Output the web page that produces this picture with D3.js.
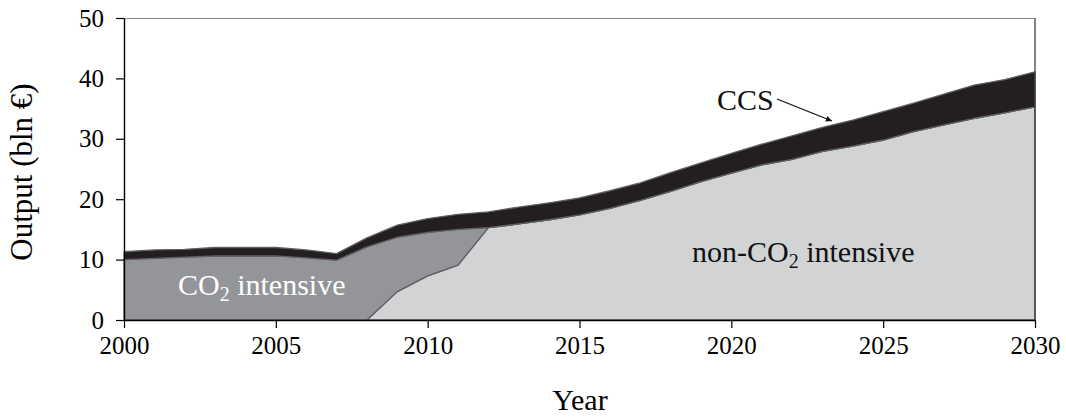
<!DOCTYPE html>
<html>
<head>
<meta charset="utf-8">
<script src="https://cdn.jsdelivr.net/npm/d3@7"></script>
<style>
  body { margin: 0; background: #fff; }
  svg text { font-family: "Liberation Serif", "Times New Roman", serif; }
</style>
</head>
<body>
<svg id="chart" width="1066" height="419"></svg>
<script>
// years on the x axis
var years = [2000,2001,2002,2003,2004,2005,2006,2007,2008,2009,2010,
             2011,2012,2013,2014,2015,2016,2017,2018,2019,2020,
             2021,2022,2023,2024,2025,2026,2027,2028,2029,2030];

// output per sector, bln euro
var nonCO2 = [0,0,0,0,0,0,0,0,0,4.7,7.3,
              9.1,15.3,15.9,16.6,17.4,18.5,19.8,21.3,22.9,24.3,
              25.7,26.6,27.9,28.8,29.8,31.2,32.3,33.4,34.3,35.3];
var co2 = [10.0,10.2,10.4,10.6,10.6,10.6,10.3,9.9,12.1,9.0,7.2,
           5.9,0,0,0,0,0,0,0,0,0,
           0,0,0,0,0,0,0,0,0,0];
var ccs = [1.3,1.4,1.3,1.4,1.4,1.4,1.3,1.1,1.5,2.0,2.3,
           2.5,2.6,2.8,2.8,2.8,2.9,2.9,3.1,3.1,3.3,
           3.4,3.9,4.0,4.3,4.7,4.7,5.1,5.5,5.5,5.8];

var xTicks = [2000,2005,2010,2015,2020,2025,2030];
var yTicks = [0,10,20,30,40,50];

var serif = '"Liberation Serif", "Times New Roman", serif';
var svg = d3.select('#chart');
var x = d3.scaleLinear().domain([2000, 2030]).range([124, 1035]);
var y = d3.scaleLinear().domain([0, 50]).range([320, 18]);

var rows = years.map(function (yr, i) {
  return { year: yr, nonCO2: nonCO2[i], co2: co2[i], ccs: ccs[i] };
});
var series = d3.stack().keys(['nonCO2', 'co2', 'ccs'])(rows);
var fills = { nonCO2: '#d1d3d4', co2: '#939598', ccs: '#231f20' };

var area = d3.area()
  .x(function (d) { return x(d.data.year); })
  .y0(function (d) { return y(d[0]); })
  .y1(function (d) { return y(d[1]); });

svg.append('g').selectAll('path')
  .data(series)
  .enter()
  .append('path')
  .attr('d', area)
  .attr('fill', function (s) { return fills[s.key]; })
  .attr('stroke', '#5f6062')
  .attr('stroke-width', 1.3)
  .attr('stroke-linejoin', 'round');

// frame on top and right
svg.append('line').attr('x1', 124).attr('x2', 1035).attr('y1', 18.5).attr('y2', 18.5)
  .attr('stroke', '#8a8a8a').attr('stroke-width', 1.2);
svg.append('line').attr('x1', 1035).attr('x2', 1035).attr('y1', 18).attr('y2', 320)
  .attr('stroke', '#333').attr('stroke-width', 1.2);

// axes
var xAxis = d3.axisBottom(x).tickValues(xTicks).tickFormat(d3.format('d'))
  .tickSize(8).tickSizeOuter(0).tickPadding(8);
var gx = svg.append('g').attr('transform', 'translate(0,320)').call(xAxis);

var yAxis = d3.axisLeft(y).tickValues(yTicks).tickSize(8).tickSizeOuter(0).tickPadding(12);
var gy = svg.append('g').attr('transform', 'translate(124,0)').call(yAxis);

[gx, gy].forEach(function (g) {
  g.attr('font-family', null).attr('font-size', null);
  g.selectAll('text').style('font-family', serif).style('font-size', '25px').attr('fill', '#000');
  g.select('.domain').attr('stroke', '#000').attr('stroke-width', 1.4);
  g.selectAll('.tick line').attr('stroke', '#000').attr('stroke-width', 1.2);
});

// axis titles
svg.append('text').attr('x', 580).attr('y', 410).attr('text-anchor', 'middle')
  .style('font-size', '30px').text('Year');
svg.append('text').attr('transform', 'translate(32,172) rotate(-90)')
  .attr('text-anchor', 'middle').style('font-size', '31px').text('Output (bln €)');

// labels in the areas
var lab1 = svg.append('text').attr('x', 178).attr('y', 295)
  .style('font-size', '30px').attr('fill', '#fff');
lab1.append('tspan').text('CO');
lab1.append('tspan').style('font-size', '20px').attr('dy', 6).text('2');
lab1.append('tspan').attr('dy', -6).text(' intensive');

var lab2 = svg.append('text').attr('x', 692).attr('y', 262)
  .style('font-size', '30px').attr('fill', '#111');
lab2.append('tspan').text('non-CO');
lab2.append('tspan').style('font-size', '20px').attr('dy', 6).text('2');
lab2.append('tspan').attr('dy', -6).text(' intensive');

svg.append('text').attr('x', 717).attr('y', 110).style('font-size', '30px')
  .attr('fill', '#111').text('CCS');

// arrow to the CCS band
svg.append('defs').append('marker')
  .attr('id', 'arr').attr('viewBox', '0 0 10 10').attr('refX', 10).attr('refY', 5)
  .attr('markerWidth', 8).attr('markerHeight', 6).attr('orient', 'auto')
  .attr('markerUnits', 'userSpaceOnUse')
  .append('path').attr('d', 'M0,0 L10,5 L0,10 z').attr('fill', '#111');
svg.append('line').attr('x1', 777).attr('y1', 99).attr('x2', 832).attr('y2', 121)
  .attr('stroke', '#111').attr('stroke-width', 1.3)
  .attr('marker-end', 'url(#arr)');
</script>
</body>
</html>
